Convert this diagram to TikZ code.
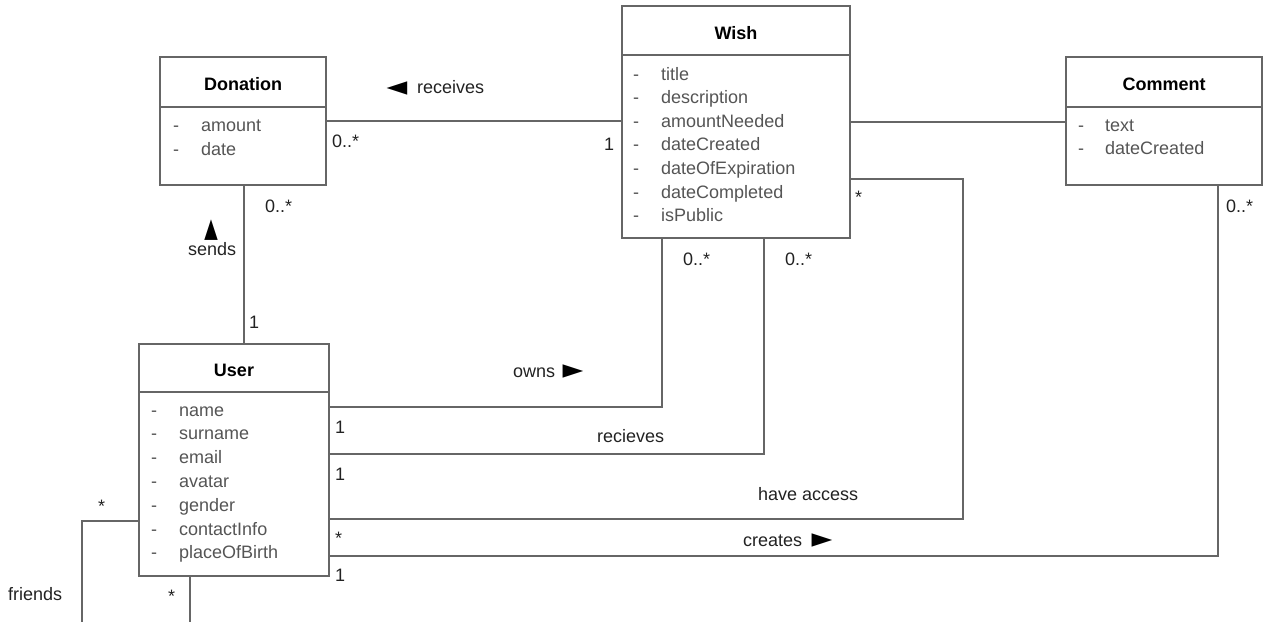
\documentclass[tikz,border=0pt]{standalone}
\usepackage{fontspec}
\setmainfont{Liberation Sans}
\newfontfamily\symfont{DejaVu Sans}
\definecolor{linegray}{HTML}{666666}
\definecolor{attrgray}{HTML}{555555}
\definecolor{lblgray}{HTML}{222222}
\tikzset{
  classbox/.style={draw=linegray, line width=1.3pt, fill=white, inner sep=0pt, outer sep=0pt, anchor=north west},
  attr/.style={anchor=base west, inner sep=0pt, text=attrgray},
  head/.style={anchor=base, inner sep=0pt, text=black, font=\fontsize{18}{22}\selectfont\bfseries},
  lbl/.style={anchor=base west, inner sep=0pt, text=lblgray},
  conn/.style={draw=linegray, line width=1.3pt},
  pointer/.style={inner sep=0pt, text=black, font=\symfont\fontsize{27}{30}\selectfont}
}
\begin{document}
\begin{tikzpicture}[x=1pt, y=-1pt, font=\fontsize{18}{23.5}\selectfont]
\useasboundingbox (0,0) rectangle (1265,622);

% ---------- Donation ----------
\node[classbox, minimum width=166pt, minimum height=128pt] (don) at (160,57) {};
\coordinate (donD) at (160,107);
\draw[conn] (donD) -- (don.east |- donD);
\node[head] (donH) at (243,90) {Donation};
\foreach \t [count=\i from 0] in {amount,date} {
  \node[attr] (donm\i) at (173,{131.7+23.4*\i}) {-};
  \node[attr] (dona\i) at (201,{131.7+23.4*\i}) {\t};
}

% ---------- Wish ----------
\node[classbox, minimum width=228pt, minimum height=232pt] (wish) at (622,6) {};
\coordinate (wishD) at (622,55);
\draw[conn] (wishD) -- (wish.east |- wishD);
\node[head] (wishH) at (736,39) {Wish};
\foreach \t [count=\i from 0] in {title,description,amountNeeded,dateCreated,dateOfExpiration,dateCompleted,isPublic} {
  \node[attr] (wishm\i) at (633,{80+23.6*\i}) {-};
  \node[attr] (wisha\i) at (661,{80+23.6*\i}) {\t};
}

% ---------- Comment ----------
\node[classbox, minimum width=196pt, minimum height=128pt] (com) at (1066,57) {};
\coordinate (comD) at (1066,107);
\draw[conn] (comD) -- (com.east |- comD);
\node[head] (comH) at (1164,90) {Comment};
\foreach \t [count=\i from 0] in {text,dateCreated} {
  \node[attr] (comm\i) at (1078,{131.5+23.4*\i}) {-};
  \node[attr] (coma\i) at (1105,{131.5+23.4*\i}) {\t};
}

% ---------- User ----------
\node[classbox, minimum width=190pt, minimum height=232pt] (usr) at (139,344) {};
\coordinate (usrD) at (139,392);
\draw[conn] (usrD) -- (usr.east |- usrD);
\node[head] (usrH) at (234,376) {User};
\foreach \t [count=\i from 0] in {name,surname,email,avatar,gender,contactInfo,placeOfBirth} {
  \node[attr] (usrm\i) at (151,{416+23.8*\i}) {-};
  \node[attr] (usra\i) at (179,{416+23.8*\i}) {\t};
}

% ---------- Connectors ----------
% Donation -- Wish (receives)
\coordinate (rcvY) at (474,121);
\draw[conn] (don.east |- rcvY) -- (wish.west |- rcvY);
% Wish -- Comment
\coordinate (cmY) at (958,122);
\draw[conn] (wish.east |- cmY) -- (com.west |- cmY);
% Donation -- User (sends)
\coordinate (sendX) at (244,265);
\draw[conn] (don.south -| sendX) -- (usr.north -| sendX);
% owns
\coordinate (ownC) at (662,407);
\draw[conn] (usr.east |- ownC) -- (ownC) -- (wish.south -| ownC);
% recieves
\coordinate (rcvC) at (764,454);
\draw[conn] (usr.east |- rcvC) -- (rcvC) -- (wish.south -| rcvC);
% have access
\coordinate (accC) at (963,519);
\coordinate (accT) at (963,179);
\draw[conn] (usr.east |- accC) -- (accC) -- (accT) -- (wish.east |- accT);
% creates
\coordinate (crC) at (1218,556);
\draw[conn] (usr.east |- crC) -- (crC) -- (com.south -| crC);
% friends (self association)
\coordinate (frA) at (82,521);
\coordinate (frB) at (82,622);
\coordinate (frC) at (190,622);
\draw[conn] (usr.west |- frA) -- (frA) -- (frB);
\draw[conn] (usr.south -| frC) -- (frC);

% ---------- Labels ----------
\node[pointer, anchor=center] (rcvP) at (397,89) {◄};
\node[lbl] (rcvL) at (417,93.5) {receives};
\node[lbl] (l1) at (332,147) {0..*};
\node[lbl] (l2) at (604,150) {1};
\node[lbl] (l3) at (265,212) {0..*};
\node[pointer, anchor=center] (sndP) at (212,230) {\rotatebox{90}{►}};
\node[lbl] (sndL) at (188,255) {sends};
\node[lbl] (l4) at (249,328) {1};
\node[lbl] (l5) at (683,265) {0..*};
\node[lbl] (l6) at (785,265) {0..*};
\node[lbl] (l7) at (855,203) {*};
\node[lbl] (ownL) at (513,377) {owns};
\node[pointer, anchor=center] (ownP) at (573,372) {►};
\node[lbl] (l8) at (335,433) {1};
\node[lbl] (rcvL2) at (597,442) {recieves};
\node[lbl] (l9) at (335,480) {1};
\node[lbl] (accL) at (758,500) {have access};
\node[lbl] (l10) at (335,544) {*};
\node[lbl] (crL) at (743,546) {creates};
\node[pointer, anchor=center] (crP) at (822,541) {►};
\node[lbl] (l11) at (335,581) {1};
\node[lbl] (l12) at (1226,212) {0..*};
\node[lbl] (l13) at (98,512) {*};
\node[lbl] (l14) at (168,602) {*};
\node[lbl] (frL) at (8,600) {friends};
\end{tikzpicture}
\end{document}
